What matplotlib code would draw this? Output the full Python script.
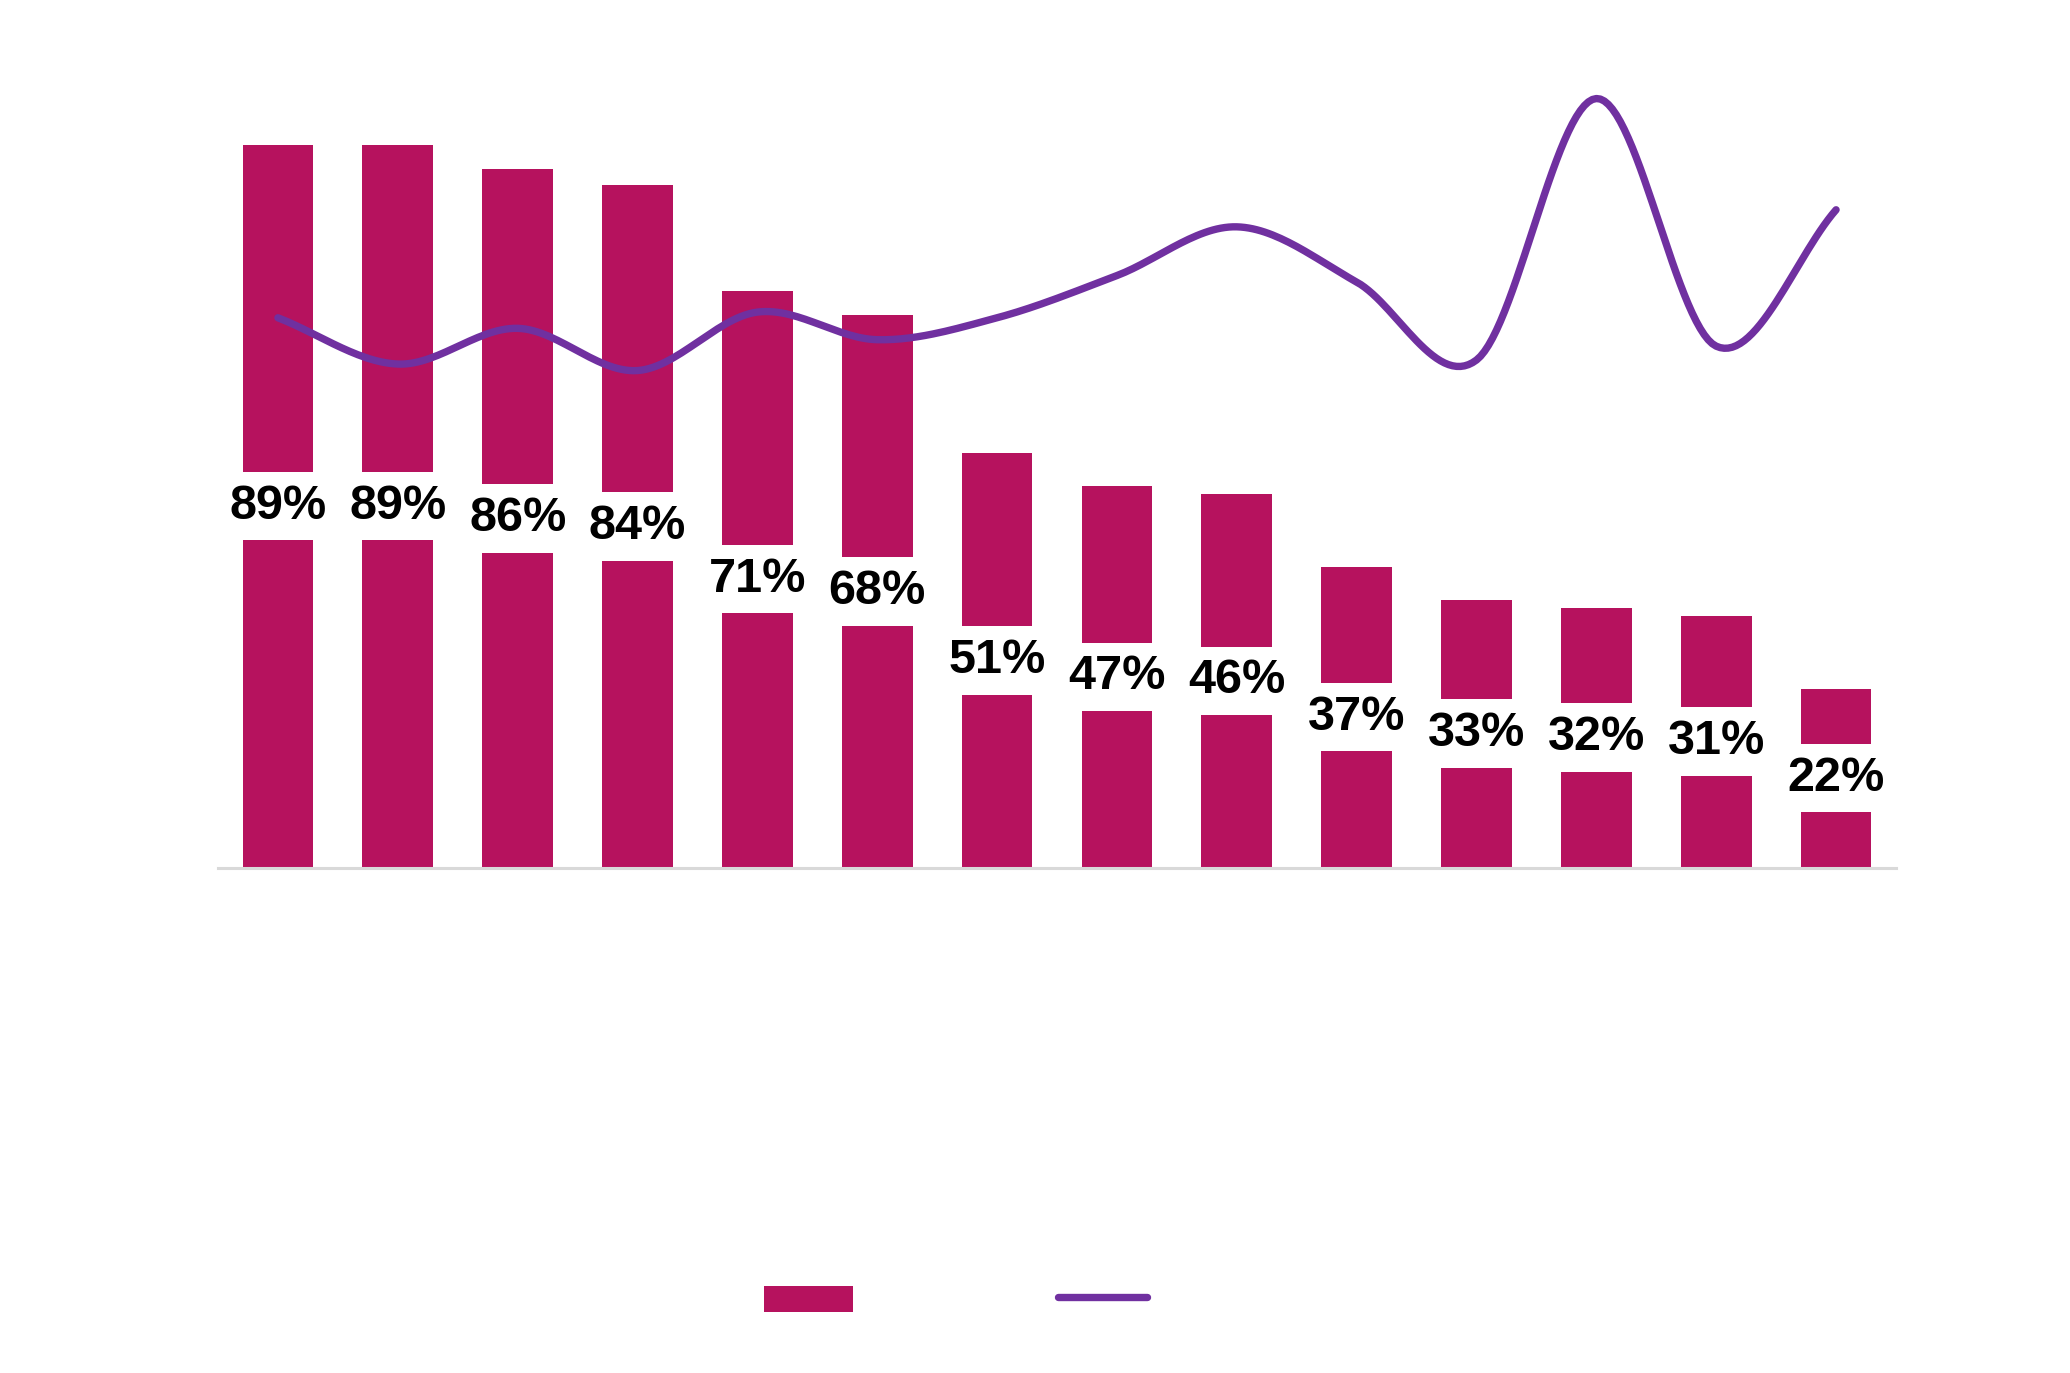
import numpy as np
import matplotlib
matplotlib.use('Agg')
import matplotlib.pyplot as plt
from matplotlib.patches import Patch
from matplotlib.lines import Line2D

# values
categories = [str(i) for i in range(1, 15)]
bar_values = [0.89, 0.89, 0.86, 0.84, 0.71, 0.68, 0.51, 0.47, 0.46, 0.37, 0.33, 0.32, 0.31, 0.22]
line_values = [0.677, 0.620, 0.664, 0.612, 0.684, 0.650, 0.677, 0.729, 0.789, 0.721,
               0.625, 0.947, 0.642, 0.810]

bar_color = "#B6125E"
line_color = "#7030A0"


def smooth(x, y, steps=30):
    # catmull-rom curve through the points (like a smoothed line)
    x = np.asarray(x, dtype=float)
    y = np.asarray(y, dtype=float)
    px = np.concatenate([[2 * x[0] - x[1]], x, [2 * x[-1] - x[-2]]])
    py = np.concatenate([[2 * y[0] - y[1]], y, [2 * y[-1] - y[-2]]])
    out_x, out_y = [], []
    t = np.linspace(0, 1, steps, endpoint=False)
    for i in range(1, len(px) - 2):
        for p, out in ((px, out_x), (py, out_y)):
            p0, p1, p2, p3 = p[i - 1], p[i], p[i + 1], p[i + 2]
            out.extend(0.5 * ((2 * p1) + (-p0 + p2) * t
                              + (2 * p0 - 5 * p1 + 4 * p2 - p3) * t ** 2
                              + (-p0 + 3 * p1 - 3 * p2 + p3) * t ** 3))
    out_x.append(x[-1])
    out_y.append(y[-1])
    return np.array(out_x), np.array(out_y)


fig = plt.figure(figsize=(20.7, 13.73), dpi=100)
ax = fig.add_axes([218 / 2070, 1 - 867.5 / 1373, 1678 / 2070, 812 / 1373])

x = np.arange(len(categories))
ax.bar(x, bar_values, width=0.59, color=bar_color, zorder=2)

sx, sy = smooth(x, line_values)
ax.plot(sx, sy, color=line_color, linewidth=5.3, solid_capstyle='round', zorder=3)

for xi, v in zip(x, bar_values):
    ax.text(xi, v / 2, f"{int(round(v * 100))}%", ha='center', va='center',
            fontsize=35, fontweight='bold', family='Liberation Sans', color='black',
            bbox=dict(boxstyle='square,pad=0.24', facecolor='white', edgecolor='none'),
            zorder=4)

ax.set_xlim(-0.5, len(categories) - 0.5)
ax.set_ylim(0, 1.0)
ax.set_xticks([])
ax.set_yticks([])
for side in ['top', 'right', 'left']:
    ax.spines[side].set_visible(False)
ax.spines['bottom'].set_color('#D9D9D9')
ax.spines['bottom'].set_linewidth(2.2)

handles = [Patch(facecolor=bar_color, edgecolor='none'),
           Line2D([0], [0], color=line_color, linewidth=5.3, solid_capstyle='round')]
fig.legend(handles, ['', ''], loc='center left', ncol=2, frameon=False,
           bbox_to_anchor=(764 / 2070, 1 - 1300 / 1373), fontsize=20,
           handlelength=3.2, handleheight=1.1, handletextpad=0.5,
           columnspacing=6.9, borderpad=0, borderaxespad=0)

plt.savefig('out.png', dpi=100, facecolor='white')
